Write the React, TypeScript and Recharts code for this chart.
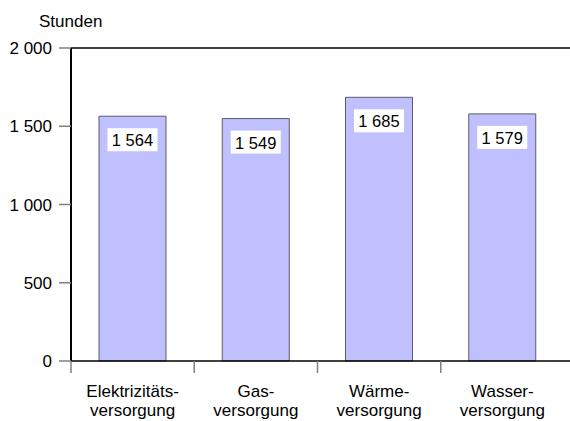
import { BarChart, Bar, XAxis, YAxis, ReferenceLine, LabelList } from 'recharts';

const sectors = ['Elektrizitätsversorgung', 'Gasversorgung', 'Wärmeversorgung', 'Wasserversorgung'];
const sectorLines = [
  ['Elektrizitäts-', 'versorgung'],
  ['Gas-', 'versorgung'],
  ['Wärme-', 'versorgung'],
  ['Wasser-', 'versorgung'],
];
const hours = [1564, 1549, 1685, 1579];
const yTicks = [0, 500, 1000, 1500, 2000];

const FONT = '"Liberation Sans", Arial, sans-serif';

const data = sectors.map((name, i) => ({ name, hours: hours[i] }));

// 1564 -> "1 564"
const fmt = (v: number) => String(v).replace(/\B(?=(\d{3})+(?!\d))/g, ' ');

function SectorTick(props: any) {
  const { x, y, payload } = props;
  const idx = sectors.indexOf(payload.value);
  const lines = sectorLines[idx] || [payload.value];
  const half = payload.offset ?? 61.6;
  return (
    <g>
      <line x1={x - half} x2={x - half} y1={y - 2} y2={y + 10} stroke="#808080" strokeWidth={1.5} />
      {lines.map((t, i) => (
        <text key={i} x={x} y={y + 34 + i * 19} textAnchor="middle" fontSize={17} fontFamily={FONT} fill="#000">
          {t}
        </text>
      ))}
    </g>
  );
}

function ValueLabel(props: any) {
  const { x, y, width, value } = props;
  const cx = x + width / 2;
  return (
    <g>
      <rect x={cx - 25} y={y + 12} width={50} height={23} fill="#fff" />
      <text x={cx} y={y + 30} textAnchor="middle" fontSize={16.5} fontFamily={FONT} fill="#000">
        {fmt(value)}
      </text>
    </g>
  );
}

export default function App() {
  return (
    <div style={{ position: 'absolute', left: 0, top: 0, width: 570, height: 421, background: '#fff' }}>
      <BarChart
        width={570}
        height={421}
        data={data}
        margin={{ top: 48, right: 0, bottom: 0, left: 0 }}
        barSize={67}
      >
        <XAxis
          dataKey="name"
          height={60}
          padding={{ left: 0, right: 6 }}
          axisLine={{ stroke: '#000', strokeWidth: 1.5 }}
          tickLine={false}
          tickSize={0}
          tick={<SectorTick />}
          interval={0}
        />
        <YAxis
          width={71}
          domain={[0, 2000]}
          ticks={yTicks}
          tickFormatter={fmt}
          axisLine={{ stroke: '#000', strokeWidth: 2 }}
          tickLine={{ stroke: '#808080', strokeWidth: 1.5 }}
          tickSize={12}
          tickMargin={7}
          tick={{ fill: '#000', fontSize: 17, fontFamily: FONT }}
          label={{
            content: (p: any) => (
              <text x={p.viewBox.x + 39} y={p.viewBox.y - 21} fontSize={17} fontFamily={FONT} fill="#000">
                Stunden
              </text>
            ),
          }}
        />
        <ReferenceLine y={2000} stroke="#000" strokeWidth={1.5} />
        <Bar dataKey="hours" fill="#c0c0ff" stroke="#5a5a6a" strokeWidth={1} isAnimationActive={false}>
          <LabelList dataKey="hours" content={<ValueLabel />} />
        </Bar>
      </BarChart>
    </div>
  );
}
